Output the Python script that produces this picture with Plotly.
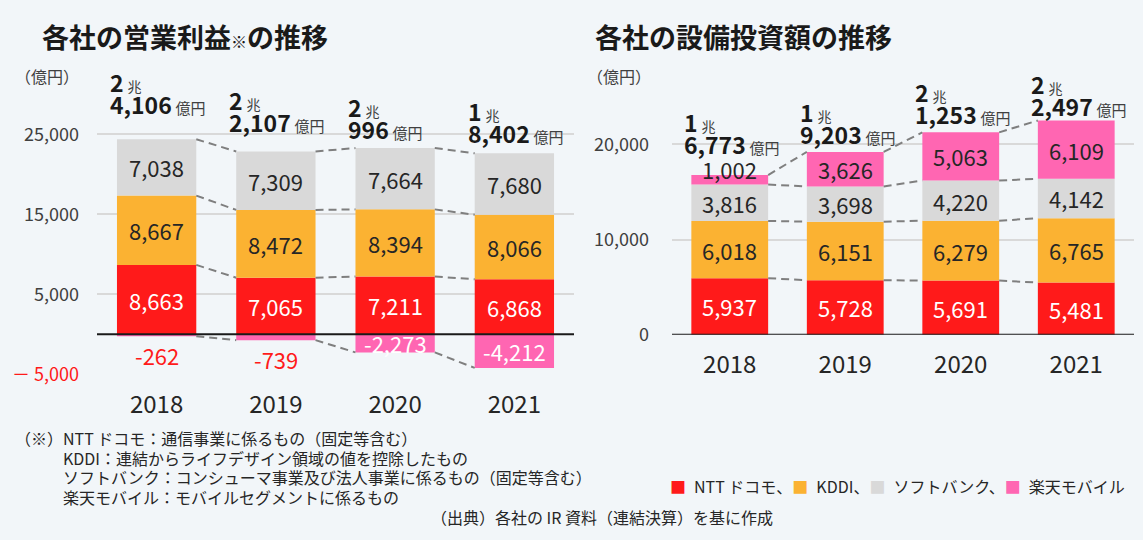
import plotly.graph_objects as go

# ---------------- data ----------------
years = ["2018", "2019", "2020", "2021"]
companies = ["NTT ドコモ", "KDDI", "ソフトバンク", "楽天モバイル"]

# 各社の営業利益（億円）
op_docomo = [8663, 7065, 7211, 6868]
op_kddi = [8667, 8472, 8394, 8066]
op_softbank = [7038, 7309, 7664, 7680]
op_rakuten = [-262, -739, -2273, -4212]

# 各社の設備投資額（億円）
cap_docomo = [5937, 5728, 5691, 5481]
cap_kddi = [6018, 6151, 6279, 6765]
cap_softbank = [3816, 3698, 4220, 4142]
cap_rakuten = [1002, 3626, 5063, 6109]

left_tickvals = [-5000, 5000, 15000, 25000]
left_ticktext = ["<span style='color:#ff1a1a'>－ 5,000</span>", "5,000", "15,000", "25,000"]
right_tickvals = [0, 10000, 20000]
right_ticktext = ["0", "10,000", "20,000"]

footnotes = [
    "（※）NTT ドコモ：通信事業に係るもの（固定等含む）",
    "KDDI：連結からライフデザイン領域の値を控除したもの",
    "ソフトバンク：コンシューマ事業及び法人事業に係るもの（固定等含む）",
    "楽天モバイル：モバイルセグメントに係るもの",
]
source_text = "（出典）各社の IR 資料（連結決算）を基に作成"

# ---------------- style ----------------
COLORS = ["#ff1a1a", "#fbb232", "#d9d9d9", "#ff66b2"]
BG = "#f2f6f9"
FONT = "Noto Sans CJK JP"
DARK = "#262626"
BW = 0.665
W, H = 1143, 540
xs = list(range(len(years)))


def px(p):
    return p / W


def py(p):
    return 1 - p / H


fig = go.Figure()
annotations = []


def cum(*series):
    out = []
    acc = [0] * len(series[0])
    for s in series:
        acc = [a + b for a, b in zip(acc, s)]
        out.append(list(acc))
    return out


def add_bars(series, xa, ya):
    for vals, col, name in zip(series, COLORS, companies):
        fig.add_trace(go.Bar(
            x=xs, y=vals, width=BW, name=name, marker=dict(color=col, line=dict(width=0)),
            xaxis=xa, yaxis=ya, showlegend=False, hoverinfo="skip"))


def add_connectors(levels, xa, ya):
    lx, ly = [], []
    for L in levels:
        for i in range(len(L) - 1):
            lx += [i + BW / 2, i + 1 - BW / 2, None]
            ly += [L[i], L[i + 1], None]
    fig.add_trace(go.Scatter(
        x=lx, y=ly, mode="lines", line=dict(color="#7f7f7f", width=2, dash="8px,5px"),
        xaxis=xa, yaxis=ya, showlegend=False, hoverinfo="skip"))


def label(x, y, text, color, xref, yref, yanchor="middle", yshift=0, size=22):
    annotations.append(dict(
        x=x, y=y, xref=xref, yref=yref, text=text, showarrow=False,
        font=dict(family=FONT, size=size, color=color), xanchor="center",
        yanchor=yanchor, yshift=yshift))


def add_totals(tops, totals, xref, yref, shifts):
    for i, (top, tot) in enumerate(zip(tops, totals)):
        cho, oku = divmod(tot, 10000)
        txt = (f"<span style='font-size:23px'><b>{cho}</b></span> "
               f"<span style='font-size:14px;color:#404040'>兆</span><br>"
               f"<span style='font-size:23px'><b>{oku:,}</b></span> "
               f"<span style='font-size:15px;color:#404040'>億円</span>")
        annotations.append(dict(
            x=i - BW / 2, y=top, xref=xref, yref=yref, text=txt, showarrow=False,
            font=dict(family=FONT, size=17, color="#1a1a1a"), xanchor="left", align="left",
            yanchor="middle", xshift=-9, yshift=shifts[i] + 11))


# ---------------- left chart: 営業利益 ----------------
add_bars([op_docomo, op_kddi, op_softbank, op_rakuten], "x", "y")
lc = cum(op_docomo, op_kddi, op_softbank)
add_connectors([lc[0], lc[1], lc[2], op_rakuten], "x", "y")
for i in xs:
    label(i, op_docomo[i] / 2, f"{op_docomo[i]:,}", "#ffffff", "x", "y")
    label(i, lc[0][i] + op_kddi[i] / 2, f"{op_kddi[i]:,}", DARK, "x", "y")
    label(i, lc[1][i] + op_softbank[i] / 2, f"{op_softbank[i]:,}", DARK, "x", "y")
    v = op_rakuten[i]
    if abs(v) < 1000:
        label(i, v, f"{v:,}", "#ff1a1a", "x", "y", yanchor="top", yshift=-1)
    else:
        label(i, v / 2, f"{v:,}", "#ffffff", "x", "y")
op_totals = [a + b for a, b in zip(lc[2], op_rakuten)]
add_totals(lc[2], op_totals, "x", "y", [35, 29, 19, 20])

# ---------------- right chart: 設備投資額 ----------------
add_bars([cap_docomo, cap_kddi, cap_softbank, cap_rakuten], "x2", "y2")
rc = cum(cap_docomo, cap_kddi, cap_softbank, cap_rakuten)
add_connectors(rc, "x2", "y2")
for i in xs:
    label(i, cap_docomo[i] / 2, f"{cap_docomo[i]:,}", "#ffffff", "x2", "y2")
    label(i, rc[0][i] + cap_kddi[i] / 2, f"{cap_kddi[i]:,}", DARK, "x2", "y2")
    label(i, rc[1][i] + cap_softbank[i] / 2, f"{cap_softbank[i]:,}", DARK, "x2", "y2")
    v = cap_rakuten[i]
    label(i, rc[2][i] + v / 2, f"{v:,}", DARK, "x2", "y2", yshift=11 if v < 2000 else 0)
add_totals(rc[3], rc[3], "x2", "y2", [31, 18, 18, 15])

# ---------------- texts ----------------
def text(x, y, t, size, color=DARK, xanchor="left"):
    annotations.append(dict(
        x=px(x), y=py(y), xref="paper", yref="paper", text=t, showarrow=False,
        font=dict(family=FONT, size=size, color=color), xanchor=xanchor, yanchor="middle",
        align="left"))


text(40, 37, "<b>各社の営業利益</b><span style='font-size:16px'>※</span><b>の推移</b>", 27, "#1a1a1a")
text(593, 37, "<b>各社の設備投資額の推移</b>", 27, "#1a1a1a")
text(13, 78, "（億円）", 16, "#404040")
text(585, 78, "（億円）", 16, "#404040")

foot_lines = [f"<span style='font-size:16px'>{footnotes[0]}</span>"]
foot_lines += [f"<span style='font-size:16px'>\u3000\u3000\u3000{t}</span>" for t in footnotes[1:]]
text(13, 477, "<br>".join(foot_lines), 15)
text(602, 528, source_text, 16, xanchor="center")

legend_parts = []
for name, col, sep in zip(companies, COLORS, ["、", "、", "、", ""]):
    legend_parts.append(f"<span style='color:{col}'>■</span>\u2002{name}{sep}")
text(668, 496, "".join(legend_parts), 16)

axis_x = dict(range=[-0.5, 3.5], tickvals=xs, ticktext=years,
              tickfont=dict(size=24, color=DARK), showgrid=False, zeroline=False,
              showline=False, ticks="", ticklabelstandoff=13, fixedrange=True)

fig.update_layout(
    width=W, height=H, autosize=False, margin=dict(l=0, r=0, t=0, b=0, pad=0),
    paper_bgcolor=BG, plot_bgcolor=BG, barmode="relative", showlegend=False,
    font=dict(family=FONT, color=DARK),
    annotations=annotations,
    xaxis=dict(axis_x, domain=[px(97), px(574)], anchor="y"),
    yaxis=dict(domain=[py(382.41), py(96.17)], range=[-5050, 30000],
               tickvals=left_tickvals, ticktext=left_ticktext,
               tickfont=dict(size=18, color="#404040"), gridcolor="#d9d9d9", gridwidth=1.5,
               zeroline=False, ticks="", ticklabelstandoff=17, anchor="x", fixedrange=True),
    xaxis2=dict(axis_x, domain=[px(672), px(1134)], anchor="y2"),
    yaxis2=dict(domain=[py(341.7), py(98.7)], range=[0, 25000],
                tickvals=right_tickvals, ticktext=right_ticktext,
                tickfont=dict(size=18, color="#404040"), gridcolor="#d9d9d9", gridwidth=1.5,
                zeroline=False, ticks="", ticklabelstandoff=22, anchor="x2", fixedrange=True),
    shapes=[
        dict(type="line", xref="x domain", yref="y", x0=0, x1=1, y0=0, y1=0,
             line=dict(color="#1a1a1a", width=2), layer="above"),
        dict(type="line", xref="x2 domain", yref="y2", x0=0, x1=1, y0=0, y1=0,
             line=dict(color="#1a1a1a", width=2), layer="above"),
    ],
)

fig.write_html(
    "out.html", config={"displayModeBar": False},
    post_script=("document.documentElement.style.cssText='margin:0;padding:0;overflow:hidden;background:" + BG + "';"
                 "document.body.style.cssText='margin:0;padding:0;overflow:hidden;background:" + BG + "';"))
